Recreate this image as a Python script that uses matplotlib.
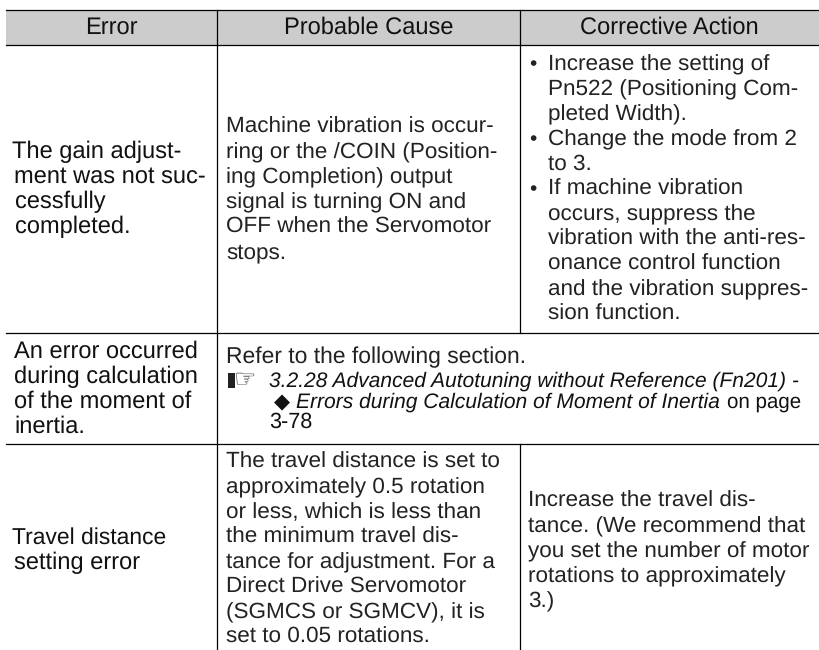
import matplotlib
matplotlib.use("Agg")
import matplotlib.pyplot as plt

plt.rcParams['font.family'] = ['Liberation Sans', 'DejaVu Sans']
plt.rcParams['text.hinting'] = 'none'

W, H = 819, 650
col_x = [6, 217, 520, 819]
row_y = [10, 45, 333, 444, 650]
line_h = 25
fs = 16.2
fs_err = 17
ink = "#222222"

headers = ["Error", "Probable Cause", "Corrective Action"]

errors = [
    (158, ["The gain adjust-", "ment was not suc-", "cessfully", "completed."]),
    (358, ["An error occurred", "during calculation", "of the moment of", "inertia."]),
    (544, ["Travel distance", "setting error"]),
]
causes = [
    (133, ["Machine vibration is occur-", "ring or the /COIN (Position-", "ing Completion) output",
           "signal is turning ON and", "OFF when the Servomotor", "stops."]),
    (468, ["The travel distance is set to", "approximately 0.5 rotation", "or less, which is less than",
           "the minimum travel dis-", "tance for adjustment. For a", "Direct Drive Servomotor",
           "(SGMCS or SGMCV), it is", "set to 0.05 rotations."]),
]
actions = [
    (70, ["Increase the setting of", "Pn522 (Positioning Com-", "pleted Width).",
          "Change the mode from 2", "to 3.", "If machine vibration", "occurs, suppress the",
          "vibration with the anti-res-", "onance control function", "and the vibration suppres-",
          "sion function."]),
    (507, ["Increase the travel dis-", "tance. (We recommend that", "you set the number of motor",
           "rotations to approximately", "3.)"]),
]
bullet_lines = [0, 3, 5]

fig = plt.figure(figsize=(W / 100, H / 100), dpi=100)
ax = fig.add_axes([0, 0, 1, 1])
ax.set_xlim(0, W)
ax.set_ylim(H, 0)
ax.axis("off")

ax.fill_between([col_x[0], col_x[-1]], row_y[0], row_y[1], color="#cccccc", lw=0)
for y in row_y[:-1]:
    ax.plot([col_x[0], col_x[-1]], [y, y], color="black", lw=0.9)
ax.plot([col_x[1], col_x[1]], [row_y[0], row_y[-1]], color="black", lw=0.9)
ax.plot([col_x[2], col_x[2]], [row_y[0], row_y[2]], color="black", lw=0.9)
ax.plot([col_x[2], col_x[2]], [row_y[3], row_y[-1]], color="black", lw=0.9)


def block(x, base, lines, size=fs, color=ink):
    for i, s in enumerate(lines):
        ax.text(x, base + i * line_h, s, fontsize=size, va="baseline", ha="left", color=color)


for i, h in enumerate(headers):
    ax.text((col_x[i] + col_x[i + 1]) / 2, 34, h, fontsize=17, ha="center", va="baseline", color="#111111")

# left column: first line of rows 1 and 3 hangs out a little
ax.text(12, errors[0][0], errors[0][1][0], fontsize=fs_err, va="baseline", color="#111111")
block(14.5, errors[0][0] + line_h, errors[0][1][1:], fs_err, "#111111")
block(14.5, errors[1][0], errors[1][1], fs_err, "#111111")
ax.text(12, errors[2][0], errors[2][1][0], fontsize=16.5, va="baseline", color="#111111")
block(14.5, errors[2][0] + line_h, errors[2][1][1:], fs_err, "#111111")

for base, lines in causes:
    block(226, base, lines)
block(548, actions[0][0], actions[0][1])
block(528, actions[1][0], actions[1][1])
for n in bullet_lines:
    ax.text(529, actions[0][0] + n * line_h, "•", fontsize=15, va="baseline", color=ink)

ax.text(226, 363, "Refer to the following section.", fontsize=16.5, va="baseline", color=ink)
ax.fill_between([228, 235], 373, 388, color="#222222", lw=0)
ax.text(234, 387, "☞", fontsize=18, va="baseline", ha="left", color=ink, family=["DejaVu Sans"])
ax.text(269, 387, "3.2.28 Advanced Autotuning without Reference (Fn201) -", fontsize=15.15, style="italic", va="baseline", color="#111111")
ax.text(274, 408, "◆", fontsize=15, va="baseline", color="#111111", family=["DejaVu Sans"])
ax.text(296, 408, "Errors during Calculation of Moment of Inertia", fontsize=15.15, style="italic", va="baseline", color="#111111")
ax.text(727, 408, "on page", fontsize=14.8, va="baseline", color="#111111")
ax.text(269, 428, "3-78", fontsize=15.6, va="baseline", color="#111111")

fig.savefig("out.png", dpi=100)
